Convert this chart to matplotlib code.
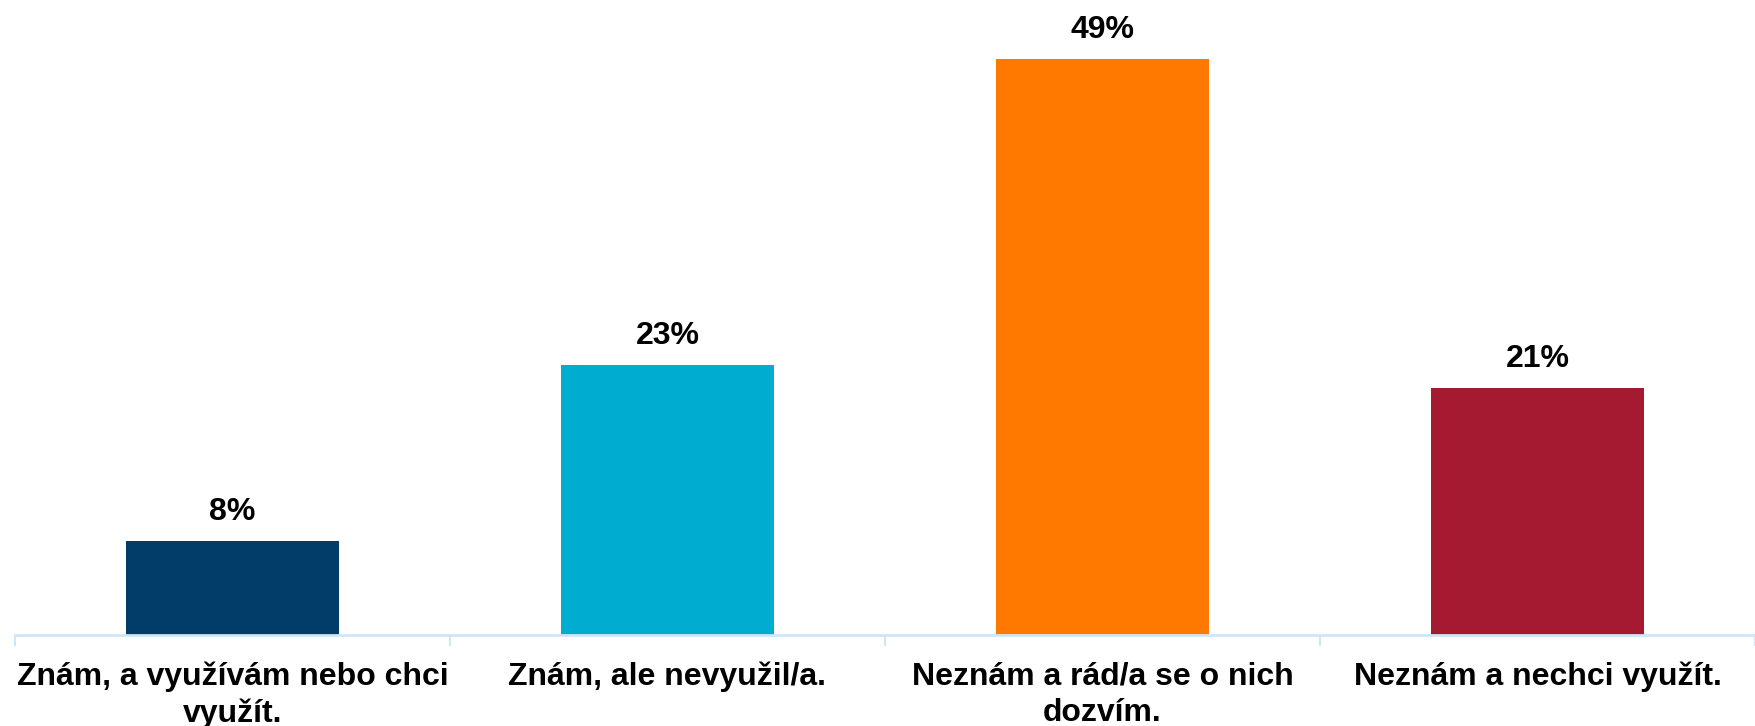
import matplotlib
matplotlib.use("Agg")
import matplotlib.pyplot as plt
import numpy as np

categories = ["Znám, a využívám nebo chci\nvyužít.",
              "Znám, ale nevyužil/a.",
              "Neznám a rád/a se o nich\ndozvím.",
              "Neznám a nechci využít."]
values = [8, 23, 49, 21]
colors = ["#023C69", "#00ADD0", "#FF7900", "#A61A31"]

plt.rcParams['font.family'] = ['Liberation Sans', 'DejaVu Sans']

fig = plt.figure(figsize=(17.56, 7.26), dpi=100)
ax = fig.add_axes([15/1756, 91/726, 1740/1756, 635/726])

x = np.arange(len(categories))
bars = ax.bar(x, values, width=0.49, color=colors, zorder=2)
for xi, v in zip(x, values):
    ax.annotate(f"{v}%", (xi, v), xytext=(0, 10), textcoords="offset points",
                ha="center", va="bottom", fontsize=23, fontweight="bold", color="black")

ax.set_xlim(-0.5, len(categories) - 0.5)
ax.set_ylim(0, 54.0)
ax.set_yticks([])
ax.set_xticks(x)
ax.set_xticklabels(categories, fontsize=23, fontweight="bold", linespacing=1.27)
ax.tick_params(axis="x", which="major", length=0, pad=19)
ax.set_xticks(np.arange(len(categories) + 1) - 0.5, minor=True)
ax.tick_params(axis="x", which="minor", length=8, width=1.5, color="#CFE6F8", direction="out")

for s in ["top", "right", "left"]:
    ax.spines[s].set_visible(False)
ax.spines["bottom"].set_color("#CFE6F8")
ax.spines["bottom"].set_linewidth(2)

fig.savefig("out.png", dpi=100)
